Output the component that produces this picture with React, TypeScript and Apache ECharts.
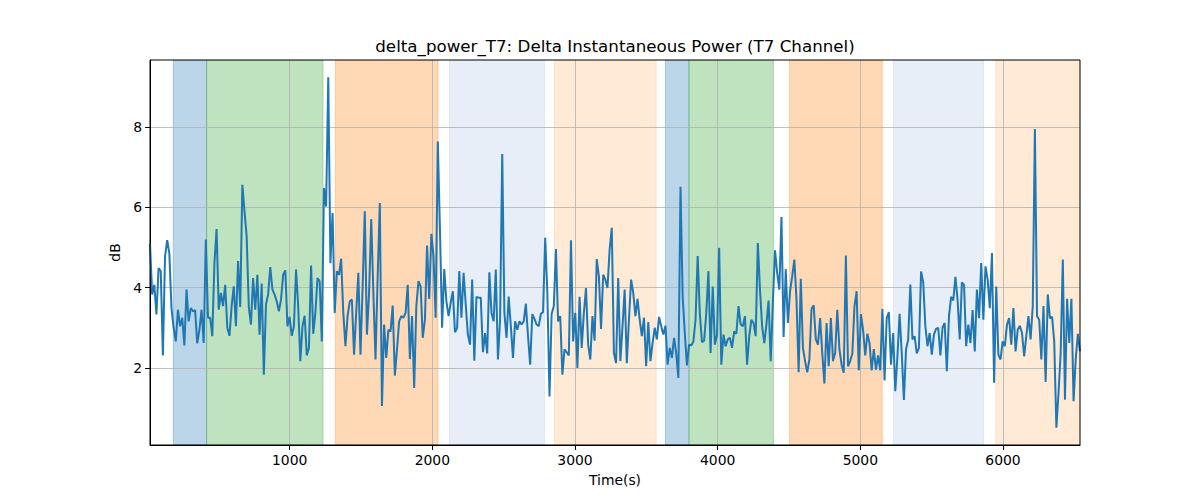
import React, { useEffect, useRef } from "react";
import * as echarts from "echarts";

const TITLE = "delta_power_T7: Delta Instantaneous Power (T7 Channel)";
const X_NAME = "Time(s)";
const Y_NAME = "dB";

const T_START = 21;
const T_END = 6540;
const Y_MIN = 0.08;
const Y_MAX = 9.67;

const X_TICKS = [1000, 2000, 3000, 4000, 5000, 6000];
const Y_TICKS = [2, 4, 6, 8];

// delta power samples (dB), evenly spaced in time from T_START to T_END
const powerValues = [
  5.1, 3.83, 4.07, 3.33, 4.49, 4.41, 2.31, 4.78, 5.18, 4.86,
  3.49, 3.0, 2.66, 3.45, 3.04, 3.25, 2.56, 3.95, 3.16, 3.49,
  3.41, 3.44, 2.61, 2.95, 3.45, 2.62, 5.2, 3.25, 3.25, 2.79,
  4.61, 5.46, 3.45, 3.87, 3.54, 4.07, 3.0, 2.8, 3.54, 4.03,
  3.04, 4.66, 3.52, 6.56, 5.9, 5.28, 3.52, 3.08, 4.24, 3.45,
  4.32, 2.83, 4.1, 1.83,
  3.58, 3.83, 4.51, 3.95, 3.83, 3.66, 3.41, 3.7, 4.32, 4.43,
  3.04, 3.27, 2.8, 3.04, 4.45, 3.54, 2.17, 3.04, 3.3, 2.31,
  2.5, 4.55, 2.85, 3.37, 4.24, 4.16, 2.66, 6.48, 6.02, 9.24,
  4.61, 5.86, 3.37, 4.41, 4.32, 4.72, 3.37, 2.54, 3.29, 3.66,
  3.7, 2.33, 3.37, 4.37, 2.33, 4.03, 5.9, 2.83, 3.87, 5.71,
  3.87, 2.21, 4.28, 6.11,
  1.05, 3.08, 2.25, 2.95, 2.91, 3.55, 1.81, 2.46, 3.16, 3.29,
  3.25, 3.37, 4.07, 2.22, 3.29, 1.5, 3.54, 4.16, 4.03, 2.75,
  3.2, 5.05, 3.72, 5.34, 4.78, 3.25, 7.64, 5.44, 3.0, 4.46,
  3.66, 3.29, 3.62, 3.91, 2.89, 3.0, 4.41, 3.25, 4.37, 3.58,
  2.83, 2.58, 4.2, 2.18, 3.77, 3.75, 3.75, 2.39, 2.87, 2.36,
  4.38, 3.37, 3.16, 4.45, 2.21,
  3.2, 7.33, 3.37, 2.75, 3.78, 3.04, 2.25, 3.16, 2.95, 3.16,
  3.08, 3.16, 3.6, 2.79, 2.08, 3.34, 3.22, 3.08, 3.04, 3.35,
  3.39, 5.24, 3.87, 1.29, 3.34, 3.54, 4.96, 3.16, 3.29, 1.83,
  2.46, 2.39, 2.31, 5.18, 2.66, 3.37, 2.0, 3.77, 2.5, 3.37,
  3.99, 2.58, 2.21, 3.29, 2.68, 4.71, 4.28, 2.97, 4.32, 4.2,
  3.99, 4.95, 5.49,
  2.37, 2.12, 4.24, 2.17, 3.04, 3.95, 2.12, 3.2, 4.2, 3.87,
  3.29, 3.72, 3.2, 2.79, 3.25, 2.04, 3.14, 2.17, 2.62, 3.0,
  2.71, 3.27, 3.04, 2.83, 3.05, 2.08, 2.5, 2.25, 2.75, 2.37,
  1.75, 6.51, 3.78, 2.87, 2.06, 2.58, 2.56, 2.66, 3.2, 4.79,
  3.34, 2.64, 2.68, 3.37, 4.41, 2.37, 4.03, 2.58, 2.83, 4.99,
  2.08, 2.83, 2.54, 2.71,
  2.75, 2.5, 2.91, 2.85, 3.54, 3.08, 3.04, 3.29, 2.08, 2.79,
  3.2, 3.12, 2.79, 5.11, 3.95, 3.04, 2.62, 3.08, 3.68, 2.17,
  3.62, 4.93, 4.37, 3.95, 5.76, 2.77, 4.46, 3.12, 3.91, 4.28,
  4.7, 3.7, 1.89, 4.22, 2.5, 2.17, 1.89, 2.21, 3.47, 3.56,
  2.71, 2.58, 3.24, 2.37, 1.61, 3.12, 2.04, 3.24, 2.17, 2.37,
  3.45, 2.46, 2.08, 1.88, 4.8,
  2.04, 2.17, 2.36, 3.54, 3.91, 1.94, 3.34, 2.95, 2.31, 2.85,
  2.62, 1.94, 2.47, 1.96, 2.31, 1.94, 3.47, 1.69, 3.24, 3.39,
  2.08, 2.87, 1.42, 2.29, 3.35, 2.37, 1.2, 2.46, 2.71, 4.08,
  2.71, 2.79, 2.36, 2.5, 4.4, 4.13, 3.04, 2.54, 2.87, 2.33,
  2.83, 2.97, 3.0, 2.31, 3.0, 3.12, 1.92, 3.29, 3.77, 3.68,
  4.27, 3.7, 2.71, 4.13,
  4.07, 2.54, 3.08, 2.62, 3.44, 2.41, 3.95, 3.24, 4.61, 3.2,
  4.53, 4.2, 3.49, 4.86, 1.63, 4.03, 2.33, 2.21, 2.66, 2.54,
  3.08, 3.24, 2.58, 3.49, 2.41, 2.95, 3.05, 2.87, 2.29, 2.79,
  3.29, 2.71, 3.54, 7.95, 3.29, 3.2, 2.21, 3.54, 1.65, 3.83,
  3.24, 3.27, 2.66, 0.51, 1.38, 2.37, 4.7, 1.21, 3.72, 2.62,
  3.72, 1.17, 2.21, 2.85, 2.41,
];

// shaded intervals (seconds)
const bandStarts = [184, 418, 1320, 2120, 2856, 3634, 3799, 4504, 5233, 5949];
const bandEnds = [418, 1234, 2040, 2786, 3569, 3799, 4391, 5154, 5864, 6540];
const bandKinds = [0, 1, 2, 3, 4, 0, 1, 2, 3, 4];
const BAND_COLORS = [
  "rgba(31,119,180,0.3)",
  "rgba(44,160,44,0.3)",
  "rgba(255,127,14,0.3)",
  "rgba(174,199,232,0.3)",
  "rgba(255,187,120,0.3)",
];

const FONT = "DejaVu Sans";

export default function App() {
  const ref = useRef<HTMLDivElement>(null);

  useEffect(() => {
    if (!ref.current) return;
    const chart = echarts.init(ref.current, undefined, { renderer: "svg" });
    const n = powerValues.length;
    const step = (T_END - T_START) / (n - 1);
    const lineData = powerValues.map((v, i) => [T_START + i * step, v]);
    const bandData = bandStarts.map((s, i) => [s, bandEnds[i], bandKinds[i]]);

    const axisCommon = {
      nameLocation: "middle" as const,
      nameTextStyle: { fontSize: 13.9, color: "#000", fontFamily: FONT },
      axisLine: { show: true, lineStyle: { color: "#000", width: 1 } },
      splitLine: { show: true, lineStyle: { color: "#b0b0b0", width: 0.8 } },
      z: 1.5,
    };
    const labelCommon = {
      fontSize: 13.9,
      color: "#000",
      fontFamily: FONT,
      margin: 8,
      formatter: (v: number) => String(v),
    };

    chart.setOption({
      animation: false,
      textStyle: { fontFamily: FONT },
      title: {
        text: TITLE,
        left: 615,
        top: 37,
        textAlign: "center",
        padding: 0,
        textStyle: { fontSize: 16.7, fontWeight: "normal", color: "#000", fontFamily: FONT },
      },
      grid: {
        left: 150,
        right: 120,
        top: 60,
        bottom: 55,
        show: true,
        borderColor: "#000",
        borderWidth: 1,
        backgroundColor: "rgba(0,0,0,0)",
        z: 3,
      },
      xAxis: {
        ...axisCommon,
        type: "value",
        min: T_START,
        max: T_END,
        splitNumber: 5,
        name: X_NAME,
        nameGap: 28,
        axisTick: { show: true, length: 5, lineStyle: { color: "#000", width: 1 }, customValues: X_TICKS },
        axisLabel: { ...labelCommon, customValues: X_TICKS },
      },
      yAxis: {
        ...axisCommon,
        type: "value",
        min: Y_MIN,
        max: Y_MAX,
        splitNumber: 5,
        name: Y_NAME,
        nameGap: 25,
        nameRotate: 90,
        axisTick: { show: true, length: 5, lineStyle: { color: "#000", width: 1 }, customValues: Y_TICKS },
        axisLabel: { ...labelCommon, customValues: Y_TICKS },
      },
      series: [
        {
          type: "custom",
          z: 1,
          silent: true,
          clip: true,
          data: bandData,
          renderItem: (params: any, api: any) => {
            const x0 = api.coord([api.value(0), Y_MAX])[0];
            const x1 = api.coord([api.value(1), Y_MAX])[0];
            const cs = params.coordSys;
            const color = BAND_COLORS[api.value(2)];
            return {
              type: "rect",
              shape: { x: x0, y: cs.y, width: x1 - x0, height: cs.height },
              style: { fill: color, stroke: color, lineWidth: 1 },
            };
          },
        },
        {
          type: "line",
          z: 2,
          data: lineData,
          symbol: "none",
          showSymbol: false,
          clip: true,
          lineStyle: { color: "#1f77b4", width: 2 },
        },
      ],
    });
    return () => chart.dispose();
  }, []);

  return (
    <div
      ref={ref}
      style={{ position: "absolute", left: 0, top: 0, width: 1200, height: 500, background: "#fff" }}
    />
  );
}
